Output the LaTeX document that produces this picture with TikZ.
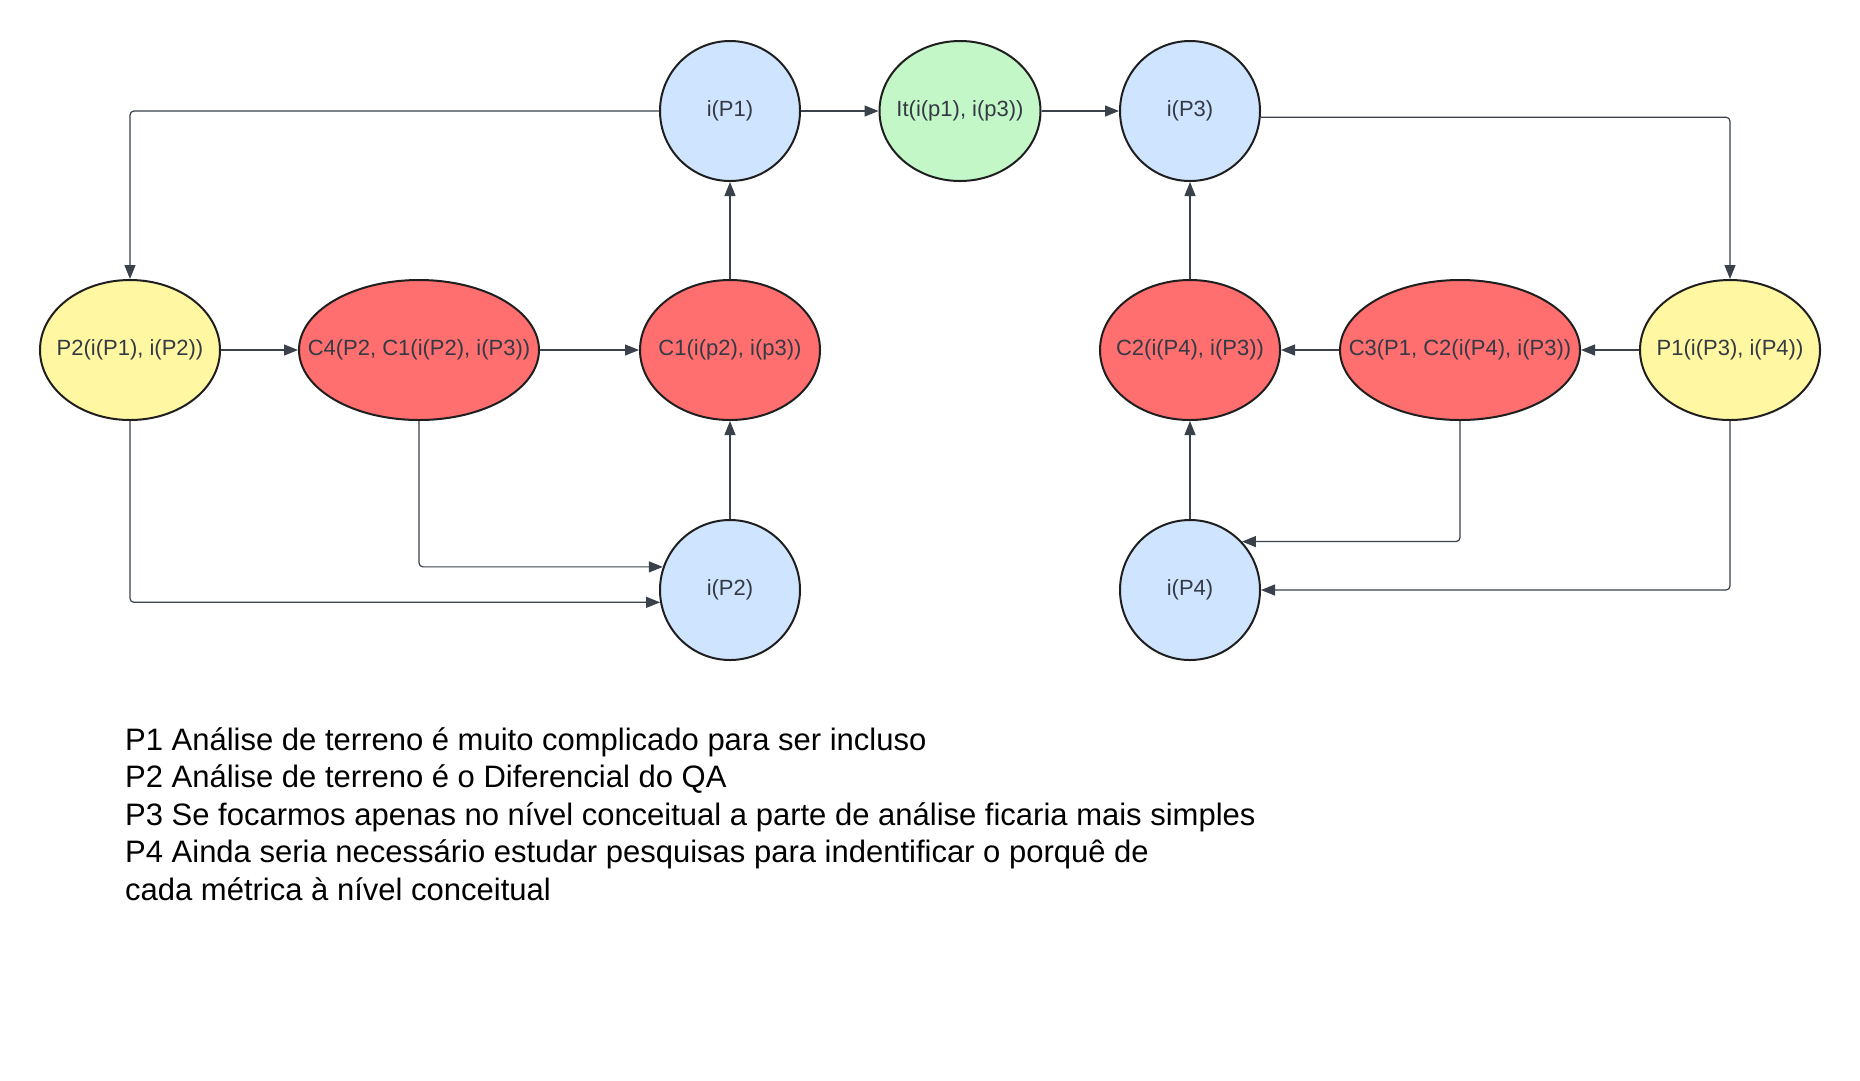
\documentclass[tikz,border=0pt]{standalone}
\usepackage{fontspec}
\setmainfont{Liberation Sans}
\usetikzlibrary{shapes.geometric,arrows.meta}
\definecolor{cblue}{HTML}{CFE4FF}
\definecolor{cgreen}{HTML}{C3F7C8}
\definecolor{cyellow}{HTML}{FFF7A1}
\definecolor{cred}{HTML}{FF6F6F}
\definecolor{cline}{HTML}{3A414A}
\definecolor{ctext}{HTML}{333A44}
\newcommand{\ctr}[1]{\makebox[0pt]{#1}}
\begin{document}
\begin{tikzpicture}[x=1pt,y=1pt,
  bub/.style={ellipse, draw=black!88, line width=2pt, inner sep=0pt,
    text=ctext, font=\fontsize{22}{26}\selectfont},
  sm/.style={bub, minimum width=140pt, minimum height=140pt, fill=cblue},
  mid/.style={bub, minimum width=180pt, minimum height=140pt},
  big/.style={bub, minimum width=240pt, minimum height=140pt, fill=cred},
  conn/.style={draw=cline, line width=1.2pt, rounded corners=4pt,
    -{Triangle[length=14pt,width=11pt]}}
]
\fill[white] (0,0) rectangle (1860,-1080);
\useasboundingbox (0,0) rectangle (1860,-1080);

\node[sm] (ip1) at (730,-111) {\ctr{i(P1)}};
\node[bub, minimum width=161pt, minimum height=140pt, fill=cgreen] (it) at (960,-111) {\ctr{It(i(p1), i(p3))}};
\node[sm] (ip3) at (1190,-111) {\ctr{i(P3)}};

\node[mid, fill=cyellow] (p2) at (130,-350) {\ctr{P2(i(P1), i(P2))}};
\node[big] (c4) at (419,-350) {\ctr{C4(P2, C1(i(P2), i(P3))}};
\node[mid, fill=cred] (c1) at (730,-350) {\ctr{C1(i(p2), i(p3))}};

\node[mid, fill=cred] (c2) at (1190,-350) {\ctr{C2(i(P4), i(P3))}};
\node[big] (c3) at (1460,-350) {\ctr{C3(P1, C2(i(P4), i(P3))}};
\node[mid, fill=cyellow] (p1) at (1730,-350) {\ctr{P1(i(P3), i(P4))}};

\node[sm] (ip2) at (730,-590) {\ctr{i(P2)}};
\node[sm] (ip4) at (1190,-590) {\ctr{i(P4)}};

\draw[conn] (ip1) -- (it);
\draw[conn] (it) -- (ip3);
\draw[conn] (ip1.west) -| (p2.north);
\draw[conn] (ip3.-5) -| (p1.north);
\draw[conn] (p2) -- (c4);
\draw[conn] (c4) -- (c1);
\draw[conn] (c1) -- (ip1);
\draw[conn] (ip2) -- (c1);
\draw[conn] (c4.south) |- (ip2.161.7);
\draw[conn] (p2.south) |- (ip2.190.7);
\draw[conn] (p1) -- (c3);
\draw[conn] (c3) -- (c2);
\draw[conn] (c2) -- (ip3);
\draw[conn] (ip4) -- (c2);
\draw[conn] (c3.south) |- (ip4.43.3);
\draw[conn] (p1.south) |- (ip4.east);

\node[anchor=north west, inner sep=0pt, align=left, text=black,
  font=\fontsize{31}{37.5}\selectfont] (notes) at (125,-727) {P1 Análise de terreno é muito complicado para ser incluso\\
P2 Análise de terreno é o Diferencial do QA\\
P3 Se focarmos apenas no nível conceitual a parte de análise ficaria mais simples\\
P4 Ainda seria necessário estudar pesquisas para indentificar o porquê de\\
cada métrica à nível conceitual};
\end{tikzpicture}
\end{document}
